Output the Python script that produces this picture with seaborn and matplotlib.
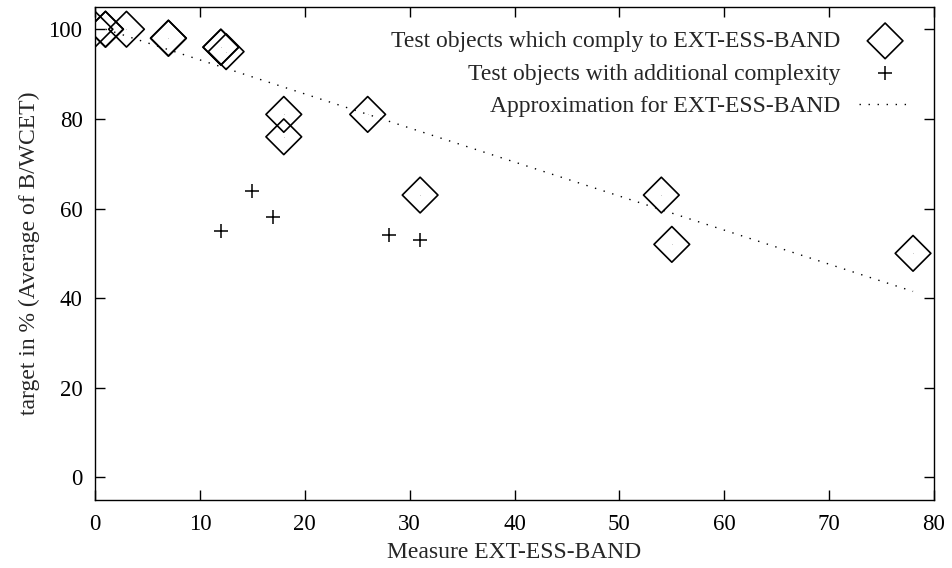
import seaborn as sns
import pandas as pd
import matplotlib.pyplot as plt

# values
comply_x = [0, 1, 1, 3, 7, 7, 12, 12, 12.5, 18, 18, 26, 31, 54, 55, 78]
comply_y = [100, 100, 100, 100, 98, 98, 96, 96, 95, 81, 76, 81, 63, 63, 52, 50]
complex_x = [12, 15, 17, 28, 31]
complex_y = [55, 64, 58, 54, 53]
approx_x = [1, 78]
approx_y = [100, 41.5]

comply = pd.DataFrame({"x": comply_x, "y": comply_y})
extra = pd.DataFrame({"x": complex_x, "y": complex_y})
approx = pd.DataFrame({"x": approx_x, "y": approx_y})

sns.set_style("ticks")
plt.rcParams["font.family"] = ["Liberation Serif", "DejaVu Serif"]
plt.rcParams["font.size"] = 17

fig = plt.figure(figsize=(9.52, 5.68), dpi=100)
ax = fig.add_axes([0.0998, 0.12, 0.8813, 0.868])

sns.scatterplot(data=comply, x="x", y="y", ax=ax, marker="D", s=330,
                facecolor="none", edgecolor="black", linewidth=1.2,
                label="Test objects which comply to EXT-ESS-BAND")
sns.scatterplot(data=comply, x="x", y="y", ax=ax, marker=".", s=2,
                color="black", linewidth=0, legend=False)
sns.scatterplot(data=extra, x="x", y="y", ax=ax, marker="+", s=110,
                color="black", linewidth=1.1,
                label="Test objects with additional complexity")
sns.lineplot(data=approx, x="x", y="y", ax=ax, color="black", linewidth=1,
             linestyle=(0, (1, 5.5)), label="Approximation for EXT-ESS-BAND")

ax.set_xlim(0, 80)
ax.set_ylim(-5, 105)
ax.set_xticks(range(0, 81, 10))
ax.set_yticks(range(0, 101, 20))
ax.tick_params(direction="in", length=7, width=1, top=True, right=True,
               labelsize=16.5, colors="black")
ax.tick_params(axis="y", pad=9)
ax.tick_params(axis="x", pad=10)
for sp in ax.spines.values():
    sp.set_visible(True)
    sp.set_color("black")
    sp.set_linewidth(1)

ax.set_xlabel("Measure EXT-ESS-BAND", fontsize=17, labelpad=5)
ax.set_ylabel("target in % (Average of B/WCET)", fontsize=17, labelpad=6)

ax.legend(loc="upper right", frameon=False, markerfirst=False, fontsize=17,
          handlelength=2.2, labelspacing=0.47, borderaxespad=0.5,
          bbox_to_anchor=(0.998, 0.995))

fig.savefig("out.png", dpi=100)
